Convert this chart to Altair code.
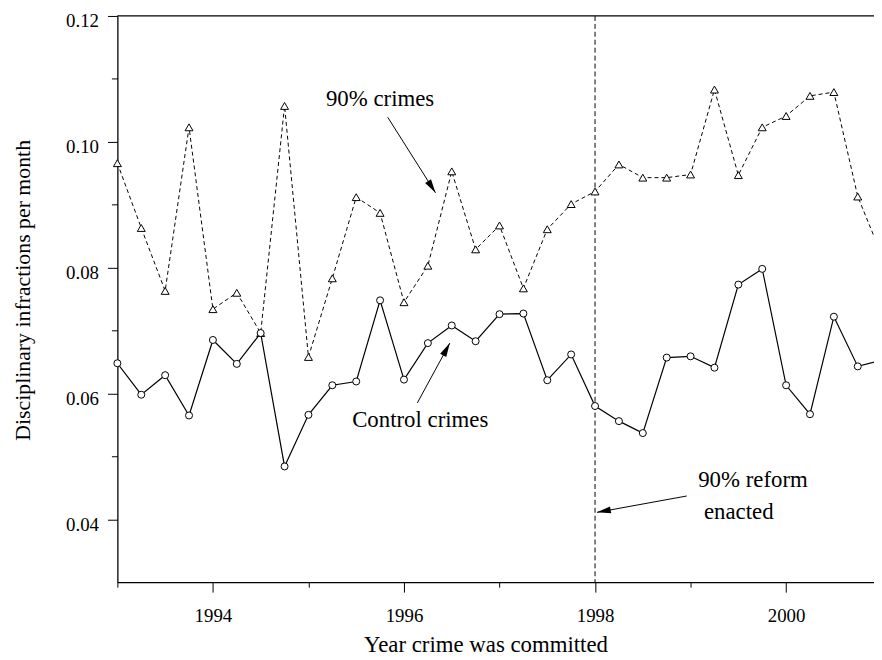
import altair as alt
import pandas as pd
import numpy as np

# ---------------- data ----------------
quarters = [1993.0, 1993.25, 1993.5, 1993.75, 1994.0, 1994.25, 1994.5, 1994.75,
            1995.0, 1995.25, 1995.5, 1995.75, 1996.0, 1996.25, 1996.5, 1996.75,
            1997.0, 1997.25, 1997.5, 1997.75, 1998.0, 1998.25, 1998.5, 1998.75,
            1999.0, 1999.25, 1999.5, 1999.75, 2000.0, 2000.25, 2000.5, 2000.75,
            2001.0]
crimes_90 = [0.0966, 0.0863, 0.0763, 0.1023, 0.0734, 0.0760, 0.0696, 0.1057,
             0.0658, 0.0783, 0.0912, 0.0887, 0.0745, 0.0803, 0.0953, 0.0829,
             0.0867, 0.0767, 0.0861, 0.0901, 0.0921, 0.0964, 0.0943, 0.0943,
             0.0948, 0.1083, 0.0947, 0.1023, 0.1041, 0.1073, 0.1079, 0.0913,
             0.0820]
control = [0.0648, 0.0598, 0.0629, 0.0565, 0.0685, 0.0647, 0.0696, 0.0484,
           0.0566, 0.0613, 0.0619, 0.0748, 0.0622, 0.0680, 0.0708, 0.0683,
           0.0726, 0.0727, 0.0621, 0.0662, 0.0580, 0.0556, 0.0537, 0.0657,
           0.0659, 0.0641, 0.0773, 0.0798, 0.0613, 0.0567, 0.0722, 0.0643,
           0.0653]

x_ticks = [1993, 1994, 1995, 1996, 1997, 1998, 1999, 2000]
y_ticks = [0.04, 0.05, 0.06, 0.07, 0.08, 0.09, 0.10, 0.11, 0.12]

reform_year = [1998]
frame_top = [0.12]

center_text = ["90% crimes", "Control crimes"]
center_text_x = [1995.75, 1996.17]
center_text_y = [0.1057, 0.0547]

left_text = ["90% reform", "enacted"]
left_text_x = [1999.08, 1999.14]
left_text_y = [0.0452, 0.0400]

arrow_x_start = [1995.83, 1996.14, 1998.96]
arrow_y_start = [0.1039, 0.0585, 0.0437]
arrow_x_tip = [1996.33, 1996.48, 1998.02]
arrow_y_tip = [0.0919, 0.0680, 0.0411]

# ---------------- layout ----------------
X_DOMAIN = [1993, 2000.92]
Y_DOMAIN = [0.03, 0.12]
W = 763
H = 571
FONT = "Liberation Serif"

series = pd.DataFrame({"x": quarters, "c90": crimes_90, "ctl": control})
visible = series[series["x"] <= X_DOMAIN[1]]

# arrowhead angles from the arrow direction in screen space
dx = (np.array(arrow_x_tip) - np.array(arrow_x_start)) / (X_DOMAIN[1] - X_DOMAIN[0]) * W
dy = -(np.array(arrow_y_tip) - np.array(arrow_y_start)) / (Y_DOMAIN[1] - Y_DOMAIN[0]) * H
angles = np.degrees(np.arctan2(dx, -dy)) % 360
arrows = pd.DataFrame({"x": arrow_x_start, "y": arrow_y_start,
                       "x2": arrow_x_tip, "y2": arrow_y_tip})
heads = pd.DataFrame({"x": arrow_x_tip, "y": arrow_y_tip, "angle": angles})

x_axis = alt.Axis(
    values=x_ticks, format="d",
    labelExpr="datum.value % 2 === 0 ? datum.label : ''",
    tickSize={"condition": {"test": "datum.value % 2 === 0", "value": 10}, "value": 5},
    labelBaseline="alphabetic", labelPadding=30,
    title="Year crime was committed",
    titleX=371.2, titleY=69.7, titleAlign="center", titleBaseline="alphabetic",
)
y_axis = alt.Axis(
    values=y_ticks, format=".2f",
    labelExpr="round(datum.value * 100) % 2 === 0 ? datum.label : ''",
    tickSize={"condition": {"test": "round(datum.value * 100) % 2 === 0", "value": 10}, "value": 6},
    labelPadding=9, labelOffset=5,
    title="Disciplinary infractions per month",
    titleFontSize=22,
    titleX=-88.3, titleY=276.2, titleAngle=-90, titleAlign="center",
    titleBaseline="alphabetic",
)

xs = alt.Scale(domain=X_DOMAIN, nice=False, zero=False)
ys = alt.Scale(domain=Y_DOMAIN, nice=False, zero=False)


def X(field="x"):
    return alt.X(f"{field}:Q", scale=xs, axis=x_axis)


def Y(field="y"):
    return alt.Y(f"{field}:Q", scale=ys, axis=y_axis)


line_ctl = alt.Chart(series).mark_line(clip=True, color="black", strokeWidth=1.2).encode(
    x=X(), y=Y("ctl"))
line_90 = alt.Chart(series).mark_line(clip=True, color="black", strokeWidth=1,
                                      strokeDash=[4, 3]).encode(x=X(), y=Y("c90"))
pts_ctl = alt.Chart(visible).mark_point(shape="circle", size=50, filled=True, fill="white",
                                        stroke="black", strokeWidth=1, opacity=1).encode(
    x=X(), y=Y("ctl"))
pts_90 = alt.Chart(visible).mark_point(shape="triangle-up", size=64, filled=True, fill="white",
                                       stroke="black", strokeWidth=1, opacity=1).encode(
    x=X(), y=Y("c90"))

vline = alt.Chart(pd.DataFrame({"x": reform_year})).mark_rule(
    color="black", strokeWidth=1, strokeDash=[5, 3]).encode(x=X())
top = alt.Chart(pd.DataFrame({"y": frame_top})).mark_rule(
    color="black", strokeWidth=1.3).encode(y=Y())

arrow_lines = alt.Chart(arrows).mark_rule(color="black", strokeWidth=1).encode(
    x=X(), y=Y(), x2="x2:Q", y2="y2:Q")
arrow_heads = alt.Chart(heads).mark_point(
    shape="M0,0L-0.5,2L0.5,2Z", size=196, filled=True, color="black", opacity=1,
    strokeWidth=0).encode(x=X(), y=Y(), angle=alt.Angle("angle:Q", scale=None))

txt_c = alt.Chart(pd.DataFrame({"t": center_text, "x": center_text_x, "y": center_text_y})).mark_text(
    align="center", baseline="alphabetic", fontSize=23, font=FONT, color="black").encode(
    x=X(), y=Y(), text="t:N")
txt_l = alt.Chart(pd.DataFrame({"t": left_text, "x": left_text_x, "y": left_text_y})).mark_text(
    align="left", baseline="alphabetic", fontSize=23, font=FONT, color="black").encode(
    x=X(), y=Y(), text="t:N")

chart = alt.layer(
    line_90, line_ctl, vline, top, pts_90, pts_ctl, arrow_lines, arrow_heads, txt_c, txt_l
).properties(
    width=W, height=H,
    autosize=alt.AutoSizeParams(type="none"),
    padding={"left": 110.3, "top": 5.3, "right": 0, "bottom": 72},
).configure(font=FONT).configure_view(stroke=None).configure_axis(
    grid=False, domainColor="black", domainWidth=1.3, tickColor="black", tickWidth=1,
    labelFont=FONT, labelFontSize=19, labelColor="black",
    titleFont=FONT, titleFontSize=23, titleFontWeight="normal", titleColor="black",
)

chart.save("out.html", embed_options={"renderer": "svg", "actions": False})
